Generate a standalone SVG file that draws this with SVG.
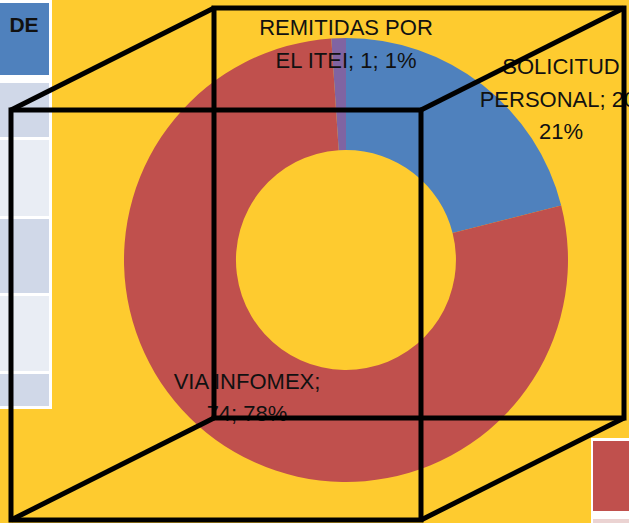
<svg xmlns="http://www.w3.org/2000/svg" width="629" height="523" viewBox="0 0 629 523">
<style>
.lbl{font-family:"Liberation Sans",Arial,sans-serif;font-size:22px;fill:#111;text-anchor:middle}
.cube{fill:none;stroke:#000;stroke-width:5;stroke-linejoin:miter}
.rowD{fill:#D0D8E8}
.rowL{fill:#E9EDF4}
</style>
<rect x="0" y="0" width="629" height="523" fill="#FECB2F"/>
<g id="table">
<rect x="0" y="0" width="52" height="409" fill="#FFFFFF"/>
<rect x="0" y="3" width="49" height="72" fill="#4F81BD"/>
<text x="24" y="32" style="font-family:'Liberation Sans',Arial,sans-serif;font-size:21px;font-weight:bold;fill:#111;text-anchor:middle">DE</text>
<rect class="rowD" x="0" y="83" width="49" height="54"/>
<rect class="rowL" x="0" y="140" width="49" height="76"/>
<rect class="rowD" x="0" y="219" width="49" height="74"/>
<rect class="rowL" x="0" y="296" width="49" height="75"/>
<rect class="rowD" x="0" y="374" width="49" height="32"/>
</g>
<g id="legend">
<rect x="591" y="438" width="38" height="85" fill="#FFFFFF"/>
<rect x="593" y="441" width="36" height="70" fill="#C0504D"/>
<rect x="593" y="519" width="36" height="4" fill="#EBD3D2"/>
</g>
<g id="donut">
<g id="slice-solicitud"><path d="M346,38 A222,222 0 0 1 561.2,205.5 L452.6,233 A110,110 0 0 0 346,150 Z" fill="#4F81BD"/></g>
<g id="slice-infomex"><path d="M561.2,205.5 A222,222 0 1 1 331.3,38.5 L338.7,150.2 A110,110 0 1 0 452.6,233 Z" fill="#C0504D"/></g>
<g id="slice-remitidas"><path d="M331.3,38.5 A222,222 0 0 1 346,38 L346,150 A110,110 0 0 0 338.7,150.2 Z" fill="#8064A2"/></g>
</g>
<g id="labels">
<text class="lbl" x="346" y="35">REMITIDAS POR</text>
<text class="lbl" x="346" y="68">EL ITEI; 1; 1%</text>
<text class="lbl" x="561" y="74">SOLICITUD</text>
<text class="lbl" x="561" y="107">PERSONAL; 20;</text>
<text class="lbl" x="561" y="139">21%</text>
<text class="lbl" x="247" y="389">VIA INFOMEX;</text>
<text class="lbl" x="247" y="421">74; 78%</text>
</g>
<g id="connectors">
<rect class="cube" x="214" y="8" width="410" height="410"/>
<rect class="cube" x="11" y="110" width="410" height="410"/>
<line class="cube" x1="11" y1="110" x2="214" y2="8"/>
<line class="cube" x1="421" y1="110" x2="624" y2="8"/>
<line class="cube" x1="421" y1="520" x2="624" y2="418"/>
<line class="cube" x1="11" y1="520" x2="214" y2="418"/>
</g>
</svg>
